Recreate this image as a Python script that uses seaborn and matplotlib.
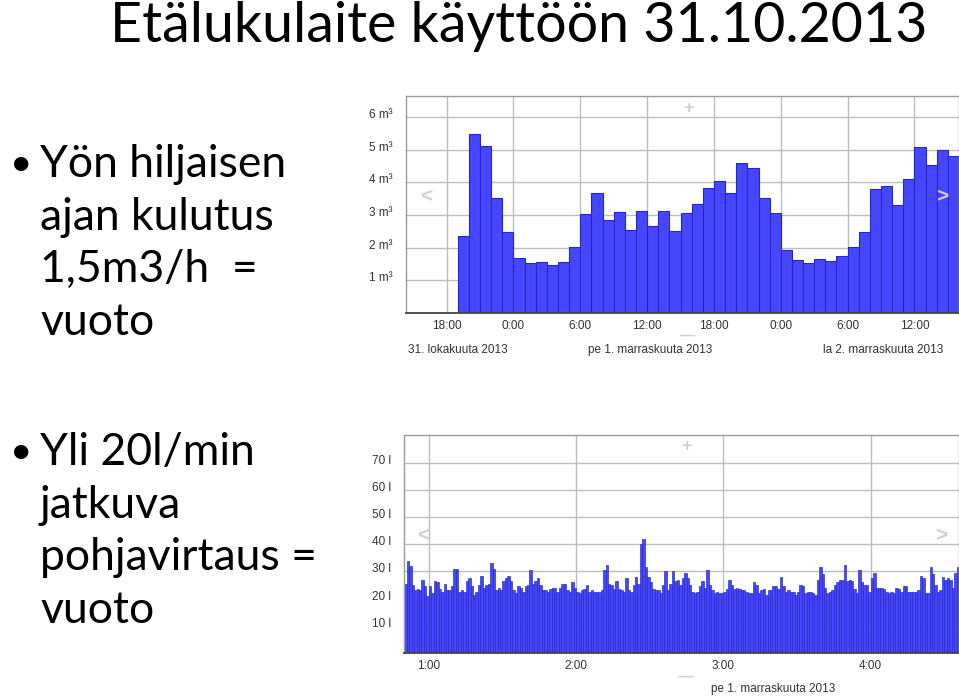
import numpy as np
import pandas as pd
import matplotlib
matplotlib.use("Agg")
import matplotlib.pyplot as plt
import matplotlib.transforms as mtransforms
import seaborn as sns

# ---------------- data ----------------
title_text = "Etälukulaite käyttöön 31.10.2013"
bullet1_lines = ["Yön hiljaisen", "ajan kulutus", "1,5m3/h  =", "vuoto"]
bullet2_lines = ["Yli 20l/min", "jatkuva", "pohjavirtaus =", "vuoto"]

# top chart: hourly consumption (m3), first bar starts 31.10. 19:00
top_start_hour = 19
top_values = [2.35, 5.49, 5.13, 3.53, 2.47,
              1.70, 1.52, 1.55, 1.48, 1.57, 2.01, 3.03, 3.67, 2.86, 3.10,
              2.54, 3.12, 2.67, 3.12, 2.50, 3.05, 3.35, 3.82, 4.03, 3.69,
              4.61, 4.44, 3.51, 3.06,
              1.92, 1.63, 1.54, 1.66, 1.58, 1.74, 2.03, 2.49, 3.80, 3.89,
              3.31, 4.12, 5.09, 4.55, 5.01, 4.82]
top_xticks = [18, 24, 30, 36, 42, 48, 54, 60]
top_xticklabels = ["18:00", "0:00", "6:00", "12:00", "18:00", "0:00", "6:00", "12:00"]
top_yticks = [1, 2, 3, 4, 5, 6]
top_yticklabels = ["1 m³", "2 m³", "3 m³", "4 m³", "5 m³", "6 m³"]
top_dates = ["31. lokakuuta 2013", "pe 1. marraskuuta 2013", "la 2. marraskuuta 2013"]

# bottom chart: per-minute flow (l), first bar starts 0:50
bot_start_minute = 50
bot_values = [25.5, 34, 32, 25, 23, 23.5, 23, 27, 24.5, 21,
              24.5, 22, 26.5, 26, 23.5, 22.5, 25.5, 23, 23, 24.5,
              31, 31, 22.5, 23, 22.5, 26.5, 27.5, 24.5, 21.5, 22.5,
              25, 28.5, 24, 25, 25.5, 33, 31, 23, 24, 23,
              26.5, 27.5, 28.5, 26.5, 23, 22, 24.5, 24, 22.5, 24.5,
              25, 30.5, 25.5, 26.5, 27.5, 25, 23, 23, 22.5, 23.5,
              24, 24, 22.5, 24, 25.5, 25.5, 23, 22.5, 26, 24,
              22.5, 22, 23, 23.5, 25, 22.5, 23, 22.5, 22.5, 22.5,
              23, 30.5, 32.5, 25.5, 25, 23.5, 26.5, 23.5, 23, 22.5,
              27.5, 23, 22.5, 25, 28, 25.5, 40, 42, 31.5, 28,
              26, 23.5, 23, 23, 22, 25, 30, 23, 25.5, 30,
              26.5, 27, 25, 27.5, 29.5, 27.5, 25, 22.5, 22, 22.5,
              24.5, 26.5, 24, 30.5, 25, 23, 22, 22.5, 22, 22,
              22.5, 23.5, 27, 25, 23.5, 24, 23.5, 23, 23, 22.5,
              22, 22, 26, 25, 22, 23, 23.5, 21.5, 23, 23,
              24.5, 24.5, 23.5, 28, 24.5, 22.5, 23, 22.5, 22.5, 21.5,
              22.5, 25, 24.5, 22, 22.5, 22.5, 22, 21.5, 27, 31.5,
              29, 24, 22, 22.5, 23, 25, 26, 27, 27, 32.5,
              26.5, 27, 26.5, 23.5, 22, 30.5, 26, 25, 25, 22.5,
              27.5, 29.5, 24, 24, 24, 23.5, 22.5, 22, 22.5, 22,
              24, 23.5, 22.5, 24.5, 24.5, 22.5, 22.5, 22.5, 22.5, 23,
              28.5, 27.5, 22, 22, 31.5, 29, 25, 22.5, 23, 28,
              27, 27.5, 27, 24, 29.5, 31.5]
bot_xticks = [60, 120, 180, 240]
bot_xticklabels = ["1:00", "2:00", "3:00", "4:00"]
bot_yticks = [10, 20, 30, 40, 50, 60, 70]
bot_yticklabels = ["10 l", "20 l", "30 l", "40 l", "50 l", "60 l", "70 l"]
bot_date = "pe 1. marraskuuta 2013"

# ---------------- styling ----------------
W, H = 959, 698
sns.set_theme(style="white")
plt.rcParams["font.family"] = ["Lato", "DejaVu Sans"]

BAR = "#4646ff"
EDGE = "#2626c4"
GRID = "#bdbdbd"
CHART_FONT = ["Liberation Sans", "DejaVu Sans"]

fig = plt.figure(figsize=(W / 100, H / 100), dpi=100)
fig.patch.set_facecolor("white")


def px_axes(l, t, r, b):
    return fig.add_axes([l / W, 1 - b / H, (r - l) / W, (b - t) / H])


def style_axes(ax, xticks, xlabels, yticks, ylabels):
    ax.set_xticks(xticks)
    ax.set_xticklabels(xlabels)
    ax.set_yticks(yticks)
    ax.set_yticklabels(ylabels)
    ax.set_xlabel("")
    ax.set_ylabel("")
    ax.grid(True, color=GRID, linewidth=1.0, zorder=0)
    ax.set_axisbelow(True)
    ax.tick_params(axis="both", length=0, labelsize=8.5, colors="#333333")
    ax.tick_params(axis="y", pad=9.4)
    ax.tick_params(axis="x", pad=5)
    for lab in ax.get_xticklabels() + ax.get_yticklabels():
        lab.set_family(CHART_FONT)
    off = mtransforms.ScaledTranslation(0, 3.5 / 100, fig.dpi_scale_trans)
    for lab in ax.get_yticklabels():
        lab.set_transform(lab.get_transform() + off)
        lab.set_horizontalalignment("right")
    for side in ["left", "top", "right"]:
        ax.spines[side].set_color("#9a9a9a")
        ax.spines[side].set_linewidth(1.0)
    ax.spines["bottom"].set_color("#444444")
    ax.spines["bottom"].set_linewidth(1.3)
    ax.set_facecolor("white")


# ---------- top chart ----------
ax1 = px_axes(406, 96, 959, 313)
top_df = pd.DataFrame({
    "hour": np.arange(len(top_values)) + top_start_hour + 0.5,
    "m3": top_values,
})
sns.barplot(data=top_df, x="hour", y="m3", native_scale=True, width=1.0,
            color=BAR, saturation=1, edgecolor=EDGE, linewidth=0.8, ax=ax1, zorder=2)
ax1.set_xlim(14.35, 64.0)
ax1.set_ylim(0, 6.65)
style_axes(ax1, top_xticks, top_xticklabels, top_yticks, top_yticklabels)

# ---------- bottom chart ----------
ax2 = px_axes(404, 435, 959, 653)
bot_df = pd.DataFrame({
    "minute": np.arange(len(bot_values)) + bot_start_minute + 0.5,
    "litres": bot_values,
})
sns.barplot(data=bot_df, x="minute", y="litres", native_scale=True, width=1.0,
            color=BAR, saturation=1, edgecolor=EDGE, linewidth=0.45, ax=ax2, zorder=2)
ax2.set_xlim(49.9, 50 + len(bot_values))
ax2.set_ylim(0, 80.2)
style_axes(ax2, bot_xticks, bot_xticklabels, bot_yticks, bot_yticklabels)

# ---------- navigation glyphs ----------
nav_kw = dict(ha="center", va="center", color="#d0d0d0", fontweight="bold",
              family=CHART_FONT)
for (x, y, s, fs) in [(426, 197, "<", 15), (942, 197, ">", 15),
                      (688, 108, "+", 13), (423, 536, "<", 15),
                      (941, 536, ">", 15), (686, 447, "+", 13)]:
    fig.text(x / W, 1 - y / H, s, fontsize=fs, **nav_kw)
for (x, y) in [(688, 336), (686, 677)]:
    fig.text(x / W, 1 - y / H, "—", fontsize=11, **nav_kw)

# ---------- date captions ----------
for x, s in zip([408, 588, 823], top_dates):
    fig.text(x / W, 1 - 350 / H, s, fontsize=8.5, ha="left", va="center",
             color="#333333", family=CHART_FONT)
fig.text(711 / W, 1 - 689 / H, bot_date, fontsize=8.5, ha="left", va="center",
         color="#333333", family=CHART_FONT)

# ---------- slide text ----------
fig.text(110 / W, 1 - 42 / H, title_text, fontsize=40, ha="left", va="baseline",
         color="black")
for base, lines in [(177, bullet1_lines), (465, bullet2_lines)]:
    fig.text(10 / W, 1 - (base - 2) / H, "•", fontsize=28, ha="left",
             va="baseline", color="black")
    for i, line in enumerate(lines):
        fig.text(40 / W, 1 - (base + i * 52.7) / H, line, fontsize=32,
                 ha="left", va="baseline", color="black")

fig.savefig("out.png", dpi=100, facecolor="white")
